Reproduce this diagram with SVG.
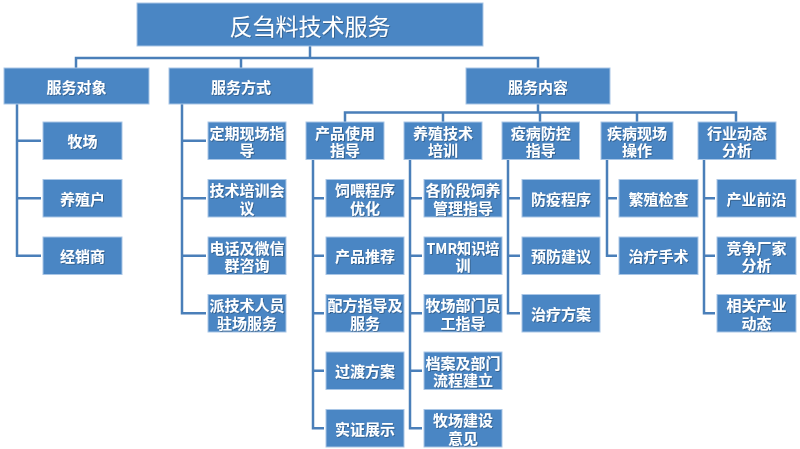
<svg xmlns="http://www.w3.org/2000/svg" width="800" height="449" viewBox="0 0 800 449">
<defs>
<style>
.box{fill:#4a86c4;stroke:#a9c6e6;stroke-width:1}
.t{fill:#ffffff;font-family:"Noto Sans CJK SC","Noto Sans",sans-serif;font-size:15px;font-weight:bold;text-anchor:middle;dominant-baseline:central;filter:url(#sh)}
.root{font-size:23px;font-weight:normal}
.c{fill:none;stroke:#4a7fb9;stroke-width:2.5;stroke-linejoin:miter}
</style>
<filter id="sh" x="-10%" y="-30%" width="120%" height="160%">
<feDropShadow dx="0.8" dy="0.8" stdDeviation="0.5" flood-color="#000000" flood-opacity="0.35"/>
</filter>
</defs>
<rect width="800" height="449" fill="#ffffff"/>
<g id="connectors">
<path class="c" d="M310,46V58M76,68V58H538V68M241,58V68"/>
<path class="c" d="M538,104V112.5M345,122V112.5H736V122M443,112.5V122M540,112.5V122M637,112.5V122"/>
<path class="c" d="M17,104V255.75H41M17,140.75H41M17,198.25H41"/>
<path class="c" d="M182,104V313.25H206M182,140.75H206M182,198.25H206M182,255.75H206"/>
<path class="c" d="M313,159.5V428.25H324M313,198.25H324M313,255.75H324M313,313.25H324M313,370.75H324"/>
<path class="c" d="M410,159.5V428.25H422M410,198.25H422M410,255.75H422M410,313.25H422M410,370.75H422"/>
<path class="c" d="M508,159.5V313.25H520M508,198.25H520M508,255.75H520"/>
<path class="c" d="M607,159.5V255.75H617M607,198.25H617"/>
<path class="c" d="M704,159.5V313.25H715M704,198.25H715M704,255.75H715"/>
</g>
<g id="root"><rect class="box" x="137" y="3" width="346" height="43"/><text class="t root" x="310" y="24.5">反刍料技术服务</text></g>
<g id="l1a"><rect class="box" x="4" y="68" width="145" height="36"/><text class="t" x="76.5" y="86">服务对象</text></g>
<g id="l1b"><rect class="box" x="169" y="68" width="144" height="36"/><text class="t" x="241" y="86">服务方式</text></g>
<g id="l1c"><rect class="box" x="466" y="68" width="144" height="36"/><text class="t" x="538" y="86">服务内容</text></g>
<g id="p1"><rect class="box" x="306" y="122" width="78" height="37.5"/><text class="t" x="345" y="132.2">产品使用<tspan x="345" dy="17.2">指导</tspan></text></g>
<g id="p2"><rect class="box" x="404" y="122" width="78" height="37.5"/><text class="t" x="443" y="132.2">养殖技术<tspan x="443" dy="17.2">培训</tspan></text></g>
<g id="p3"><rect class="box" x="502" y="122" width="77.5" height="37.5"/><text class="t" x="540.7" y="132.2">疫病防控<tspan x="540.7" dy="17.2">指导</tspan></text></g>
<g id="p4"><rect class="box" x="601" y="122" width="72" height="37.5"/><text class="t" x="637" y="132.2">疾病现场<tspan x="637" dy="17.2">操作</tspan></text></g>
<g id="p5"><rect class="box" x="698" y="122" width="78" height="37.5"/><text class="t" x="737" y="132.2">行业动态<tspan x="737" dy="17.2">分析</tspan></text></g>
<g id="a1"><rect class="box" x="43" y="122" width="79" height="37.5"/><text class="t" x="82.5" y="140.75">牧场</text></g>
<g id="a2"><rect class="box" x="43" y="179.5" width="79" height="37.5"/><text class="t" x="82.5" y="198.25">养殖户</text></g>
<g id="a3"><rect class="box" x="43" y="237" width="79" height="37.5"/><text class="t" x="82.5" y="255.75">经销商</text></g>
<g id="b1"><rect class="box" x="208" y="122" width="78" height="37.5"/><text class="t" x="247" y="132.2">定期现场指<tspan x="247" dy="17.2">导</tspan></text></g>
<g id="b2"><rect class="box" x="208" y="179.5" width="78" height="37.5"/><text class="t" x="247" y="189.7">技术培训会<tspan x="247" dy="17.2">议</tspan></text></g>
<g id="b3"><rect class="box" x="208" y="237" width="78" height="37.5"/><text class="t" x="247" y="247.2">电话及微信<tspan x="247" dy="17.2">群咨询</tspan></text></g>
<g id="b4"><rect class="box" x="208" y="294.5" width="78" height="37.5"/><text class="t" x="247" y="304.7">派技术人员<tspan x="247" dy="17.2">驻场服务</tspan></text></g>
<g id="c1"><rect class="box" x="326" y="179.5" width="78" height="37.5"/><text class="t" x="365" y="189.7">饲喂程序<tspan x="365" dy="17.2">优化</tspan></text></g>
<g id="c2"><rect class="box" x="326" y="237" width="78" height="37.5"/><text class="t" x="365" y="255.75">产品推荐</text></g>
<g id="c3"><rect class="box" x="326" y="294.5" width="78" height="37.5"/><text class="t" x="365" y="304.7">配方指导及<tspan x="365" dy="17.2">服务</tspan></text></g>
<g id="c4"><rect class="box" x="326" y="352" width="78" height="37.5"/><text class="t" x="365" y="370.75">过渡方案</text></g>
<g id="c5"><rect class="box" x="326" y="409.5" width="78" height="37.5"/><text class="t" x="365" y="428.25">实证展示</text></g>
<g id="d1"><rect class="box" x="424" y="179.5" width="78" height="37.5"/><text class="t" x="463" y="189.7">各阶段饲养<tspan x="463" dy="17.2">管理指导</tspan></text></g>
<g id="d2"><rect class="box" x="424" y="237" width="78" height="37.5"/><text class="t" x="463" y="247.2"><tspan textLength="73" lengthAdjust="spacingAndGlyphs">TMR知识培</tspan><tspan x="463" dy="17.2">训</tspan></text></g>
<g id="d3"><rect class="box" x="424" y="294.5" width="78" height="37.5"/><text class="t" x="463" y="304.7">牧场部门员<tspan x="463" dy="17.2">工指导</tspan></text></g>
<g id="d4"><rect class="box" x="424" y="352" width="78" height="37.5"/><text class="t" x="463" y="362.2">档案及部门<tspan x="463" dy="17.2">流程建立</tspan></text></g>
<g id="d5"><rect class="box" x="424" y="409.5" width="78" height="37.5"/><text class="t" x="463" y="419.7">牧场建设<tspan x="463" dy="17.2">意见</tspan></text></g>
<g id="e1"><rect class="box" x="522" y="179.5" width="78" height="37.5"/><text class="t" x="561" y="198.25">防疫程序</text></g>
<g id="e2"><rect class="box" x="522" y="237" width="78" height="37.5"/><text class="t" x="561" y="255.75">预防建议</text></g>
<g id="e3"><rect class="box" x="522" y="294.5" width="78" height="37.5"/><text class="t" x="561" y="313.25">治疗方案</text></g>
<g id="f1"><rect class="box" x="619" y="179.5" width="79" height="37.5"/><text class="t" x="658.5" y="198.25">繁殖检查</text></g>
<g id="f2"><rect class="box" x="619" y="237" width="79" height="37.5"/><text class="t" x="658.5" y="255.75">治疗手术</text></g>
<g id="g1"><rect class="box" x="717" y="179.5" width="79" height="37.5"/><text class="t" x="756.5" y="198.25">产业前沿</text></g>
<g id="g2"><rect class="box" x="717" y="237" width="79" height="37.5"/><text class="t" x="756.5" y="247.2">竞争厂家<tspan x="756.5" dy="17.2">分析</tspan></text></g>
<g id="g3"><rect class="box" x="717" y="294.5" width="79" height="37.5"/><text class="t" x="756.5" y="304.7">相关产业<tspan x="756.5" dy="17.2">动态</tspan></text></g>
</svg>
